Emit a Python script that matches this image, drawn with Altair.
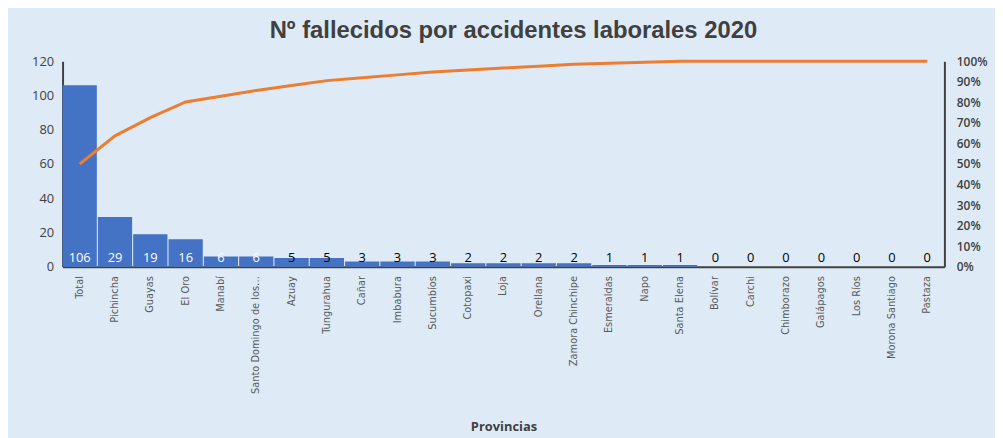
import altair as alt
import pandas as pd

provincias = ["Total", "Pichincha", "Guayas", "El Oro", "Manabí", "Santo Domingo de los Tsáchilas",
              "Azuay", "Tungurahua", "Cañar", "Imbabura", "Sucumbíos", "Cotopaxi", "Loja", "Orellana",
              "Zamora Chinchipe", "Esmeraldas", "Napo", "Santa Elena", "Bolívar", "Carchi",
              "Chimborazo", "Galápagos", "Los Ríos", "Morona Santiago", "Pastaza"]
fallecidos = [106, 29, 19, 16, 6, 6, 5, 5, 3, 3, 3, 2, 2, 2, 2, 1, 1, 1, 0, 0, 0, 0, 0, 0, 0]
acumulado = [0.500, 0.637, 0.726, 0.802, 0.830, 0.858, 0.882, 0.906, 0.920, 0.934, 0.948, 0.958,
             0.967, 0.976, 0.986, 0.991, 0.995, 1.0, 1.0, 1.0, 1.0, 1.0, 1.0, 1.0, 1.0]

df = pd.DataFrame({"prov": provincias, "n": fallecidos, "pct": acumulado})

W, H = 889, 207
yaxis = alt.Axis(values=[0, 20, 40, 60, 80, 100, 120], ticks=False, grid=False,
                 labelOverlap=False, labelFontSize=13, labelColor="#404040",
                 labelPadding=9, labelFont="Open Sans",
                 domainColor="#404040", domainWidth=2)
xenc = alt.X("prov:N", sort=provincias, title="Provincias",
             scale=alt.Scale(paddingInner=0.03, paddingOuter=0),
             axis=alt.Axis(labelAngle=270, labelFontSize=11, labelColor="#595959",
                           labelFont="Liberation Sans Narrow, DejaVu Sans Condensed, sans-serif",
                           labelLimit=121, labelPadding=9, ticks=False,
                           domainColor="#404040", domainWidth=2,
                           titleFont="Open Sans", titleFontSize=13, titleFontWeight="bold",
                           titleColor="#404040", titleY=161, titleBaseline="middle"))

bars = alt.Chart(df).mark_bar(color="#4472C4").encode(
    x=xenc,
    y=alt.Y("n:Q", scale=alt.Scale(domain=[0, 120]), title=None, axis=yaxis),
)

labels = alt.Chart(df).mark_text(baseline="middle", dy=-9, fontSize=13, font="Open Sans").encode(
    x=xenc,
    y=alt.YDatum(0, scale=alt.Scale(domain=[0, 120]), title=None, axis=yaxis),
    text="n:Q",
    color=alt.condition(alt.datum.n >= 6, alt.value("white"), alt.value("black")),
)

left = alt.layer(bars, labels)

line = alt.Chart(df).mark_line(color="#ED7D31", strokeWidth=3).encode(
    x=xenc,
    y=alt.Y("pct:Q", scale=alt.Scale(domain=[0, 1]), title=None,
            axis=alt.Axis(orient="right", format=".0%", values=[i / 10 for i in range(11)],
                          ticks=False, grid=False, labelOverlap=False, labelFontSize=12,
                          labelColor="#404040", labelFont="Open Sans", labelFontWeight=600,
                          labelPadding=12, domainColor="#404040", domainWidth=2)),
)

chart = alt.layer(left, line).resolve_scale(y="independent").properties(
    width=W, height=H,
    title=alt.TitleParams("Nº fallecidos por accidentes laborales 2020", font="Liberation Sans",
                          fontSize=24, fontWeight="bold", color="#404040", dx=10, offset=12),
    autosize=alt.AutoSizeParams(type="none"),
    padding={"left": 55, "top": 52, "right": 51, "bottom": 171},
).configure(background="#DEEBF7").configure_view(stroke=None).configure_axis(labelOverlap=False)

chart.save("out.html", embed_options={"renderer": "svg", "actions": False})
